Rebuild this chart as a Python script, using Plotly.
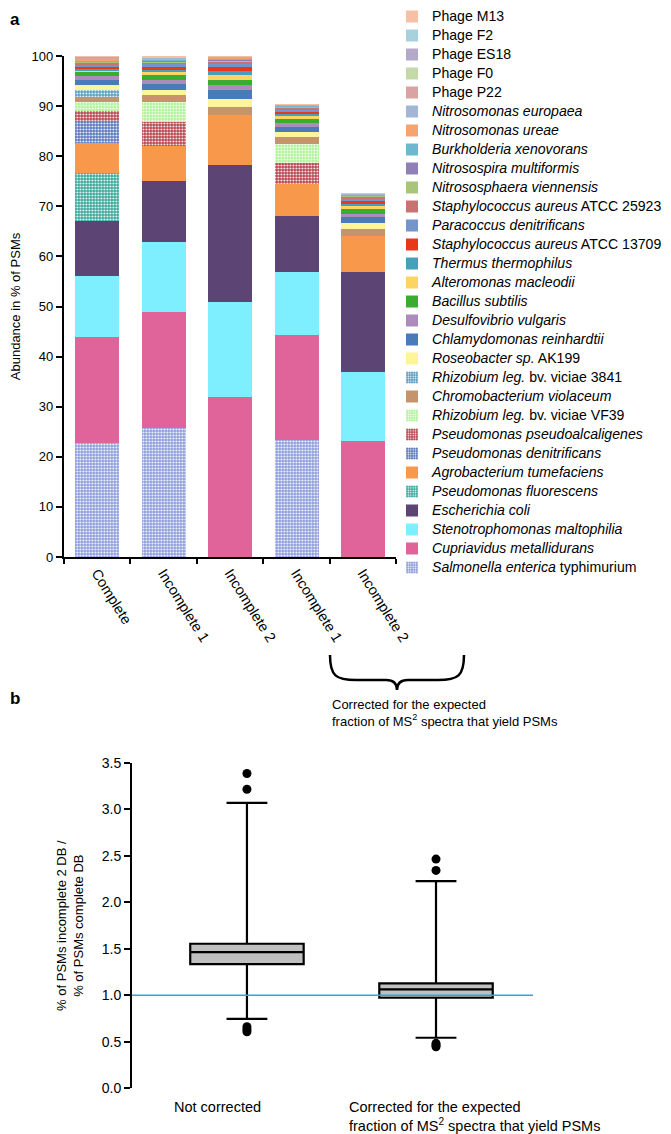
import plotly.graph_objects as go

# The page body adds an 8 px margin; the figure is sized and positioned to compensate.
PAGE_W, PAGE_H = 671, 1134
OFF = 8
W, H = PAGE_W - OFF, PAGE_H - OFF
FONT = "Liberation Sans, Arial, sans-serif"

# ---------------- Panel a data ----------------
categories = ["Complete", "Incomplete 1", "Incomplete 2", "Incomplete 1 corr", "Incomplete 2 corr"]
category_labels = ["Complete", "Incomplete 1", "Incomplete 2", "Incomplete 1", "Incomplete 2"]

species = [
    "<i>Salmonella enterica</i> typhimurium",
    "<i>Cupriavidus metallidurans</i>",
    "<i>Stenotrophomonas maltophilia</i>",
    "<i>Escherichia coli</i>",
    "<i>Pseudomonas fluorescens</i>",
    "<i>Agrobacterium tumefaciens</i>",
    "<i>Pseudomonas denitrificans</i>",
    "<i>Pseudomonas pseudoalcaligenes</i>",
    "<i>Rhizobium leg.</i> bv. viciae VF39",
    "<i>Chromobacterium violaceum</i>",
    "<i>Rhizobium leg.</i> bv. viciae 3841",
    "<i>Roseobacter sp.</i> AK199",
    "<i>Chlamydomonas reinhardtii</i>",
    "<i>Desulfovibrio vulgaris</i>",
    "<i>Bacillus subtilis</i>",
    "<i>Alteromonas macleodii</i>",
    "<i>Thermus thermophilus</i>",
    "<i>Staphylococcus aureus</i> ATCC 13709",
    "<i>Paracoccus denitrificans</i>",
    "<i>Staphylococcus aureus</i> ATCC 25923",
    "<i>Nitrososphaera viennensis</i>",
    "<i>Nitrosospira multiformis</i>",
    "<i>Burkholderia xenovorans</i>",
    "<i>Nitrosomonas ureae</i>",
    "<i>Nitrosomonas europaea</i>",
    "Phage P22",
    "Phage F0",
    "Phage ES18",
    "Phage F2",
    "Phage M13",
]

colors = [
    "#8e9edb", "#e0649a", "#7eefff", "#5c4574", "#3aa89a", "#f7984a",
    "#5a78bd", "#b8444e", "#b2f39a", "#c4956a", "#5a9cbf", "#fdf597",
    "#4a7ab8", "#ab8cbb", "#3aac30", "#fcd462", "#45a1bb", "#e8381c",
    "#7395c9", "#c97272", "#a8c57a", "#9180b5", "#6cb8cf", "#f6a46f",
    "#a3b6d6", "#d9a3a3", "#c4d8a8", "#b5a9c9", "#a7d1dd", "#f6c0a4",
]

speckled = [True, False, False, False, True, False, True, True, True, False,
            True] + [False] * 19

complete = [22.8, 21.1, 12.2, 11.0, 9.5, 6.1, 4.3, 2.1, 1.7, 1.0, 1.5, 0.9, 1.1, 0.65, 0.8,
            0.4, 0.35, 0.45, 0.35, 0.35, 0.2, 0.15, 0.2, 0.15, 0.15, 0.15, 0.1, 0.1, 0.1, 0.05]
incomplete1 = [25.7, 23.3, 13.8, 12.2, 0, 7.1, 0, 4.7, 4.1, 1.3, 0, 1.0, 1.3, 0.8, 1.0,
               0.5, 0.45, 0.5, 0.6, 0.45, 0.2, 0.15, 0.15, 0.15, 0.15, 0.12, 0.08, 0.08, 0.07, 0.05]
incomplete2 = [0, 31.9, 18.9, 27.4, 0, 10.0, 0, 0, 0, 1.7, 0, 1.5, 1.8, 1.0, 1.0,
               1.1, 0.7, 0.8, 0.7, 0.4, 0.3, 0.15, 0.15, 0.1, 0.1, 0.1, 0.07, 0.07, 0.03, 0.03]
incomplete1_corr = [23.4, 21.0, 12.5, 11.2, 0, 6.4, 0, 4.1, 3.8, 1.4, 0, 1.0, 1.1, 0.65, 0.95,
                    0.45, 0.4, 0.45, 0.5, 0.4, 0.15, 0.1, 0.1, 0.1, 0.08, 0.07, 0.04, 0.03, 0.02, 0.01]
incomplete2_corr = [0, 23.1, 13.8, 20.0, 0, 7.2, 0, 0, 0, 1.3, 0, 1.2, 1.2, 0.7, 0.9,
                    0.65, 0.5, 0.6, 0.5, 0.3, 0.2, 0.1, 0.1, 0.07, 0.07, 0.06, 0.03, 0.03, 0.02, 0.02]

y_ticks_a = [0, 10, 20, 30, 40, 50, 60, 70, 80, 90, 100]

# ---------------- Panel b data ----------------
box_cats = ["Not corrected", "Corrected"]
q1 = [1.337, 0.974]
median = [1.466, 1.064]
q3 = [1.555, 1.129]
lowerfence = [0.748, 0.544]
upperfence = [3.07, 2.229]
outlier_x = ["Not corrected", "Not corrected", "Not corrected", "Not corrected", "Not corrected",
             "Corrected", "Corrected", "Corrected", "Corrected", "Corrected"]
outlier_y = [3.387, 3.218, 0.662, 0.635, 0.609, 2.466, 2.344, 0.484, 0.462, 0.447]
reference_ratio = 1.0
y_ticks_b = [0.0, 0.5, 1.0, 1.5, 2.0, 2.5, 3.0, 3.5]


def px_x(p):
    """page pixel x -> paper fraction"""
    return (p - OFF) / W


def px_y(p):
    """page pixel y -> paper fraction"""
    return 1 - (p - OFF) / H


fig = go.Figure()

values_by_cat = [complete, incomplete1, incomplete2, incomplete1_corr, incomplete2_corr]
for i, name in enumerate(species):
    vals = [v[i] for v in values_by_cat]
    marker = dict(color=colors[i], line=dict(width=0))
    if speckled[i]:
        marker["pattern"] = dict(shape=".", fgcolor="white", bgcolor=colors[i],
                                 size=3, solidity=0.3, fillmode="replace")
    label = f'<span style="font-size:14.1px">{name}</span>'
    fig.add_trace(go.Bar(x=categories, y=vals, name=label, marker=marker,
                         width=0.66, xaxis="x", yaxis="y"))

fig.add_trace(go.Box(
    x=box_cats, q1=q1, median=median, q3=q3, lowerfence=lowerfence, upperfence=upperfence,
    fillcolor="#c0c0c0", line=dict(color="black", width=2.2), width=0.6, whiskerwidth=0.36,
    boxpoints=False, showlegend=False, xaxis="x2", yaxis="y2"))

fig.add_trace(go.Scatter(
    x=outlier_x, y=outlier_y, mode="markers",
    marker=dict(color="black", size=9), showlegend=False, xaxis="x2", yaxis="y2"))

axis_common = dict(showgrid=False, zeroline=False, showline=True, linecolor="black",
                   linewidth=2, ticks="outside", tickcolor="black", tickwidth=2)

fig.update_layout(
    width=W, height=H,
    margin=dict(l=0, r=0, t=0, b=0, autoexpand=False),
    paper_bgcolor="white", plot_bgcolor="white",
    font=dict(family=FONT, size=13, color="black"),
    barmode="stack",
    showlegend=True,
    legend=dict(traceorder="reversed", x=px_x(392), y=px_y(2), xanchor="left", yanchor="top",
                font=dict(family=FONT, size=12.0, color="black"), itemwidth=30,
                bgcolor="rgba(0,0,0,0)", tracegroupgap=0, maxheight=1100),
    xaxis=dict(domain=[px_x(63.8), px_x(396.3)], anchor="y", type="category",
               tickmode="array", tickvals=categories, ticktext=category_labels,
               tickson="boundaries", ticklen=5, tickangle=58,
               tickfont=dict(family=FONT, size=14.5, color="black"),
               **axis_common),
    yaxis=dict(domain=[px_y(557), px_y(56)], anchor="x", range=[0, 100],
               tickmode="array", tickvals=y_ticks_a, ticklen=6,
               tickfont=dict(family=FONT, size=13, color="black"),
               title=dict(text="Abundance in % of PSMs", font=dict(size=13), standoff=12),
               **axis_common),
    xaxis2=dict(domain=[px_x(132), px_x(533)], anchor="y2", type="category",
                range=[-0.608, 1.513],
                showticklabels=False, showline=False, ticks="", showgrid=False, zeroline=False),
    yaxis2=dict(domain=[px_y(1088.3), px_y(763)], anchor="x2", range=[0, 3.5],
                tickmode="array", tickvals=y_ticks_b, tickformat=".1f", ticklen=6,
                tickfont=dict(family=FONT, size=14, color="black"),
                title=dict(text="% of PSMs incomplete 2 DB /<br>% of PSMs complete DB",
                           font=dict(size=13), standoff=15),
                **axis_common),
)

# reference line at ratio 1
fig.add_shape(type="line", xref="x2 domain", yref="y2", x0=0, x1=1,
              y0=reference_ratio, y1=reference_ratio,
              line=dict(color="#29a8e0", width=1.5), layer="above")


def P(x, y):
    return f"{px_x(x):.5f},{px_y(y):.5f}"


# brace under the corrected bars
brace = ("M " + P(330, 655) + " C " + P(330, 676) + " " + P(336, 680) + " " + P(356, 680)
         + " L " + P(386, 680) + " C " + P(393, 680) + " " + P(397, 683) + " " + P(397, 690)
         + " C " + P(397, 683) + " " + P(401, 680) + " " + P(408, 680)
         + " L " + P(438, 680) + " C " + P(458, 680) + " " + P(464, 676) + " " + P(464, 655))
fig.add_shape(type="path", xref="paper", yref="paper", path=brace,
              line=dict(color="black", width=2.5))

annotations = [
    dict(text="<b>a</b>", x=px_x(8), y=px_y(8), xanchor="left", yanchor="top",
         font=dict(size=17)),
    dict(text="<b>b</b>", x=px_x(8), y=px_y(687), xanchor="left", yanchor="top",
         font=dict(size=17)),
    dict(text="Corrected for the expected<br>fraction of MS<sup>2</sup> spectra that yield PSMs",
         x=px_x(330), y=px_y(695), xanchor="left", yanchor="top", align="left",
         font=dict(size=13)),
    dict(text="Not corrected", x=px_x(172), y=px_y(1097), xanchor="left", yanchor="top",
         align="left", font=dict(size=14.5)),
    dict(text="Corrected for the expected<br>fraction of MS<sup>2</sup> spectra that yield PSMs",
         x=px_x(347), y=px_y(1097), xanchor="left", yanchor="top", align="left",
         font=dict(size=14.5)),
]
for a in annotations:
    a.update(xref="paper", yref="paper", showarrow=False)
    fig.add_annotation(**a)

fig.write_html("out.html")
